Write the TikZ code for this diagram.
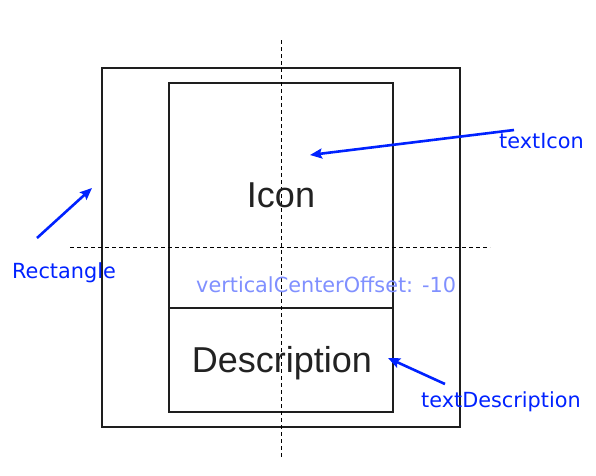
\documentclass[tikz,border=0pt]{standalone}
\usepackage{fontspec}
\setmainfont{DejaVu Sans}
\newfontfamily\arialfont{Liberation Sans}
\usetikzlibrary{arrows.meta}
\definecolor{lblblue}{RGB}{0,34,255}
\definecolor{offblue}{RGB}{128,144,255}
\definecolor{txtgray}{RGB}{34,34,34}
\definecolor{linegray}{RGB}{30,30,30}
\tikzset{
  boxline/.style={draw=linegray, line width=1.1pt},
  guide/.style={draw=black, line width=1pt, dash pattern=on 4pt off 3pt},
  pointer/.style={draw=lblblue, line width=2.6pt, -{Stealth[length=12pt,width=10pt,inset=2pt]}},
  lbl/.style={text=lblblue, font=\fontsize{20.8}{24}\selectfont, inner sep=0pt, anchor=base west},
  big/.style={text=txtgray, font=\arialfont\fontsize{36}{42}\selectfont, inner sep=0pt, anchor=base},
}
\begin{document}
\begin{tikzpicture}[x=1pt,y=-1pt]
\useasboundingbox[fill=white] (0,0) rectangle (596,475);
% boxes
\draw[boxline] (102,68) rectangle (460,427);
\draw[boxline] (169,83) rectangle (393,412);
\draw[boxline] (169,308) -- (393,308);
% guides
\coordinate (vtop) at (281,40);
\coordinate (vbot) at (281,458);
\coordinate (hl) at (70,247);
\coordinate (hr) at (490,247);
\draw[guide] (vtop) -- (vbot);
\draw[guide] (hl) -- (hr);
% texts
\node[big] (icon) at (281,207.5) {Icon};
\node[big] (desc) at (282,372) {Description};
\node[lbl, text=offblue] (offset) at (196,292) {verticalCenterOffset: -10};
\node[lbl] (rect) at (12,278) {Rectangle};
\node[lbl] (ticon) at (499,148) {textIcon};
\node[lbl] (tdesc) at (421,407) {textDescription};
% arrows
\coordinate (r1) at (37,238);
\coordinate (r2) at (92,188);
\coordinate (i1) at (514,130);
\coordinate (i2) at (310,155);
\coordinate (d1) at (445,384);
\coordinate (d2) at (388,358);
\draw[pointer] (r1) -- (r2);
\draw[pointer] (i1) -- (i2);
\draw[pointer] (d1) -- (d2);
\end{tikzpicture}
\end{document}
